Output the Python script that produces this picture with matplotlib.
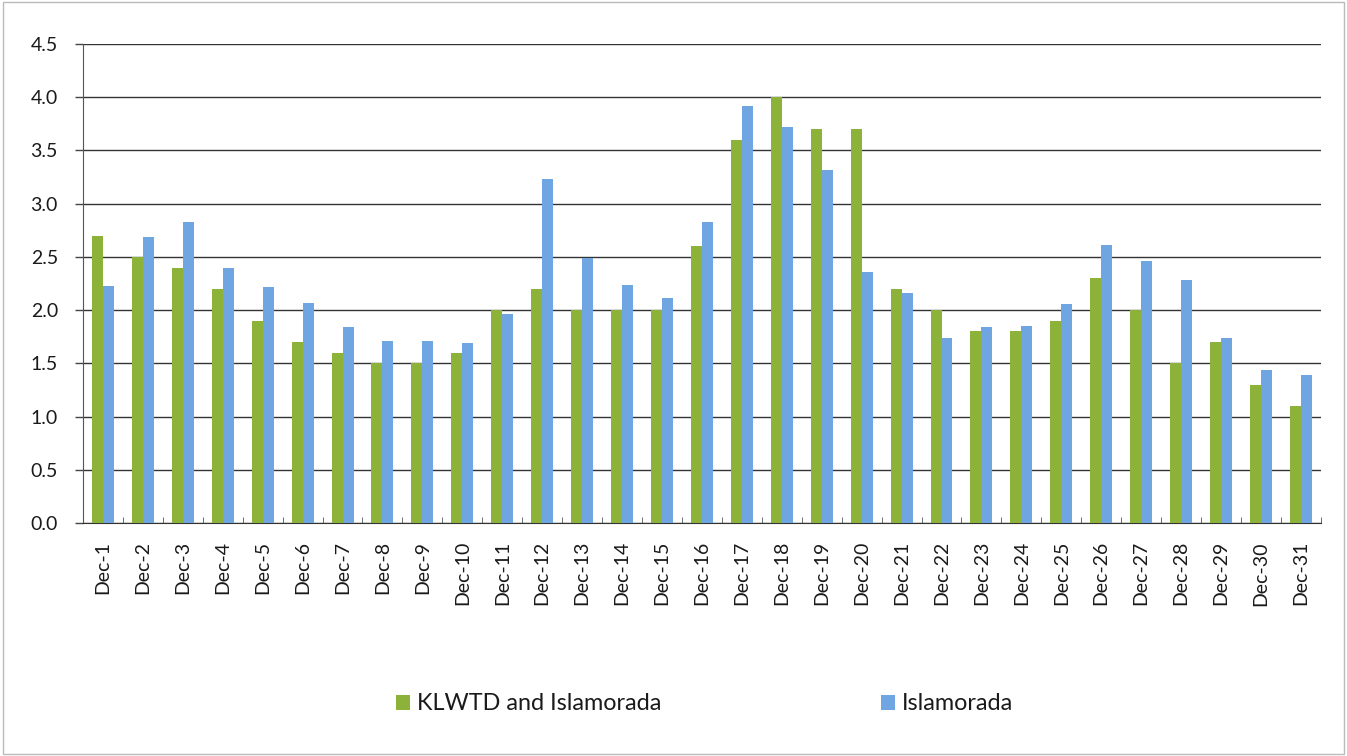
import numpy as np
import matplotlib.pyplot as plt
from matplotlib.patches import Rectangle

plt.rcParams['font.family'] = ['Lato', 'DejaVu Sans']

days = ["Dec-%d" % d for d in range(1, 32)]
klwtd = [2.7, 2.5, 2.4, 2.2, 1.9, 1.7, 1.6, 1.5, 1.5, 1.6,
         2.0, 2.2, 2.0, 2.0, 2.0, 2.6, 3.6, 4.0, 3.7, 3.7,
         2.2, 2.0, 1.8, 1.8, 1.9, 2.3, 2.0, 1.5, 1.7, 1.3, 1.1]
islamorada = [2.23, 2.69, 2.83, 2.40, 2.22, 2.07, 1.84, 1.71, 1.71, 1.69,
              1.96, 3.23, 2.49, 2.24, 2.11, 2.83, 3.92, 3.72, 3.32, 2.36,
              2.16, 1.74, 1.84, 1.85, 2.06, 2.61, 2.46, 2.28, 1.74, 1.44, 1.39]
yticks = np.arange(0, 4.51, 0.5)

green = '#8cb23a'
blue = '#6fa6e2'
txt = '#1a1a1a'

fig = plt.figure(figsize=(13.47, 7.56), dpi=100)
ax = fig.add_axes([0.0616, 0.3082, 0.919, 0.6336])

x = np.arange(len(days))
w = 0.275
ax.bar(x - w / 2, klwtd, w, color=green, label='KLWTD and Islamorada', zorder=3)
ax.bar(x + w / 2, islamorada, w, color=blue, label='Islamorada', zorder=3)

ax.set_xlim(-0.5, len(days) - 0.5)
ax.set_ylim(0, 4.5)
ax.set_yticks(yticks)
ax.set_yticklabels(["%.1f" % v for v in yticks], fontsize=14, color=txt)
ax.set_xticks(x)
ax.set_xticklabels(days, rotation=90, fontsize=14, color=txt)
ax.tick_params(axis='x', length=0, pad=13)
ax.tick_params(axis='y', length=6, width=1, color='#444444', pad=12)
ax.set_xticks(np.arange(-0.5, len(days), 1), minor=True)
ax.tick_params(axis='x', which='minor', direction='in', length=4, color='#555555')

ax.grid(axis='y', color='#333333', linewidth=1, zorder=0)
for s in ['top', 'right']:
    ax.spines[s].set_visible(False)
ax.spines['left'].set_color('#555555')
ax.spines['bottom'].set_color('#333333')

leg = fig.legend(loc='center', bbox_to_anchor=(0.523, 0.069), ncol=2, frameon=False,
                 fontsize=16.8, handlelength=0.6, handleheight=0.6, handletextpad=0.3,
                 columnspacing=9.4)
for t in leg.get_texts():
    t.set_color(txt)

fig.patches.append(Rectangle((0.002, 0.003), 0.996, 0.994, transform=fig.transFigure,
                             fill=False, edgecolor='#bbbbbb', linewidth=1))

fig.savefig('out.png', dpi=100)
